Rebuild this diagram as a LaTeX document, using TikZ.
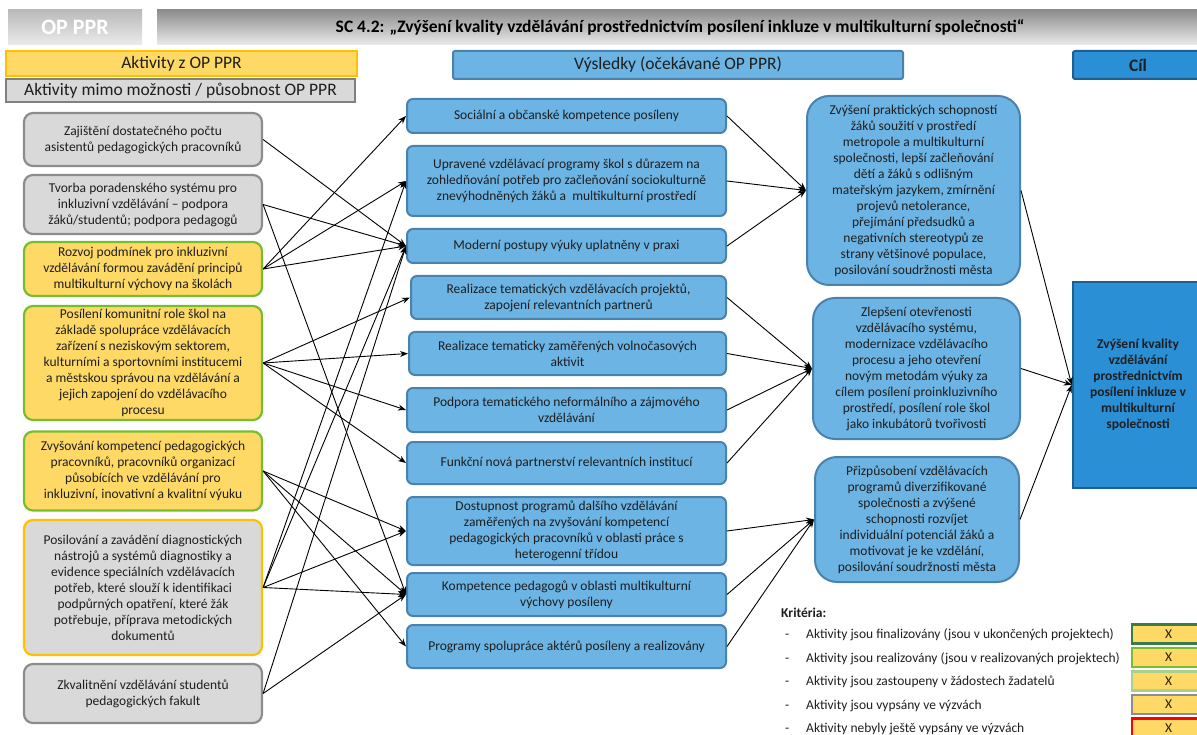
\documentclass[tikz,border=0pt]{standalone}
\usepackage{fontspec}
\setmainfont{Carlito}
\usetikzlibrary{arrows.meta,calc}
\definecolor{bluefill}{HTML}{6CB4E4}
\definecolor{blueline}{HTML}{4A82AE}
\definecolor{goalfill}{HTML}{2A8FD4}
\definecolor{goalline}{HTML}{1F5E90}
\definecolor{yel}{HTML}{FFD966}
\definecolor{orng}{HTML}{FFC000}
\definecolor{grn}{HTML}{76BE2E}
\definecolor{dgrn}{HTML}{3A7D44}
\definecolor{lgrn}{HTML}{A9D18E}
\definecolor{gfill}{HTML}{D9D9D9}
\definecolor{gline}{HTML}{8C8C8C}
\definecolor{txt}{HTML}{1E1E1E}
\begin{document}
\begin{tikzpicture}[x=1pt,y=-1pt,
  base/.style={rectangle, align=center, inner sep=0pt, text=txt, font=\fontsize{13.5}{16}\selectfont},
  lgray/.style={base, fill=gfill, draw=gline, line width=2.2pt, rounded corners=9pt, minimum width=238pt},
  lyel/.style={base, fill=yel, draw=grn, line width=2.2pt, rounded corners=9pt, minimum width=238pt},
  mbox/.style={base, fill=bluefill, draw=blueline, line width=2pt, rounded corners=6pt},
  rbox/.style={base, fill=bluefill, draw=blueline, line width=2pt, rounded corners=22pt},
  hdr/.style={rectangle, align=center, inner sep=0pt, text=txt, font=\fontsize{17.5}{20}\selectfont},
  xbox/.style={rectangle, fill=yel, line width=2.5pt, minimum width=73pt, minimum height=19pt, inner sep=0pt, text=txt, font=\fontsize{13.5}{15}\selectfont},
  crit/.style={anchor=base west, inner sep=0pt, text=txt, font=\fontsize{13.5}{15}\selectfont},
  arr/.style={-{Stealth[length=8pt,width=6pt]}, line width=0.9pt, black}
]
\useasboundingbox (0,0) rectangle (1197,735);

% header
\node[rectangle, top color=black!27, bottom color=black!8, minimum width=134pt, minimum height=35pt, inner sep=0pt, text=white, font=\fontsize{22}{24}\selectfont\bfseries] (opppr) at (75,27.5) {OP PPR};
\node[rectangle, top color=black!45, bottom color=black!8, minimum width=1046pt, minimum height=35pt, inner sep=0pt, text=black, font=\fontsize{17.5}{20}\selectfont\bfseries] (title) at (680,27.5) {SC 4.2: „Zvýšení kvality vzdělávání prostřednictvím posílení inkluze v multikulturní společnosti“};

\node[hdr, fill=yel, draw=orng, line width=2pt, minimum width=351pt, minimum height=25pt] (hakt) at (181.5,63.5) {Aktivity z OP PPR};
\node[hdr, fill=gfill, draw=black!50, line width=2.5pt, minimum width=349pt, minimum height=23pt] (hmimo) at (180.5,90.5) {Aktivity mimo možnosti / působnost OP PPR};
\node[hdr, fill=bluefill, draw=blueline, line width=2pt, rounded corners=2pt, minimum width=450pt, minimum height=28pt] (hvys) at (678,65) {Výsledky (očekávané OP PPR)};
\node[hdr, fill=goalfill, draw=goalline, line width=2pt, rounded corners=2pt, minimum width=130pt, minimum height=28pt, font=\fontsize{17.5}{20}\selectfont\bfseries] (hcil) at (1138,65) {Cíl};

% left column
\node[lgray, minimum height=53pt] (L1) at (143,139.5) {Zajištění dostatečného počtu\\asistentů pedagogických pracovníků};
\node[lgray, minimum height=59pt] (L2) at (143,204.5) {Tvorba poradenského systému pro\\inkluzivní vzdělávání – podpora\\žáků/studentů; podpora pedagogů};
\node[lyel, minimum height=54pt] (L3) at (143,269) {Rozvoj podmínek pro inkluzivní\\vzdělávání formou zavádění principů\\multikulturní výchovy na školách};
\node[lyel, minimum height=114pt] (L4) at (143,363) {Posílení komunitní role škol na\\základě spolupráce vzdělávacích\\zařízení s neziskovým sektorem,\\kulturními a sportovními institucemi\\a městskou správou na vzdělávání a\\jejich zapojení do vzdělávacího\\procesu};
\node[lyel, minimum height=79pt] (L5) at (143,471) {Zvyšování kompetencí pedagogických\\pracovníků, pracovníků organizací\\působících ve vzdělávání pro\\inkluzivní, inovativní a kvalitní výuku};
\node[lgray, draw=orng, minimum height=135pt] (L6) at (143,587.5) {Posilování a zavádění diagnostických\\nástrojů a systémů diagnostiky a\\evidence speciálních vzdělávacích\\potřeb, které slouží k identifikaci\\podpůrných opatření, které žák\\potřebuje, příprava metodických\\dokumentů};
\node[lgray, minimum height=59pt] (L7) at (143,693.5) {Zkvalitnění vzdělávání studentů\\pedagogických fakult};

% middle column
\node[mbox, minimum width=319pt, minimum height=34pt] (M1) at (566.5,116) {Sociální a občanské kompetence posíleny};
\node[mbox, minimum width=319pt, minimum height=70pt] (M2) at (566.5,181) {Upravené vzdělávací programy škol s důrazem na\\zohledňování potřeb pro začleňování sociokulturně\\znevýhodněných žáků a \ multikulturní prostředí};
\node[mbox, minimum width=319pt, minimum height=34pt] (M3) at (566.5,246) {Moderní postupy výuky uplatněny v praxi};
\node[mbox, minimum width=315pt, minimum height=43pt] (M4) at (568.5,297.5) {Realizace tematických vzdělávacích projektů,\\zapojení relevantních partnerů};
\node[mbox, minimum width=317pt, minimum height=43pt] (M5) at (567.5,353.5) {Realizace tematicky zaměřených volnočasových\\aktivit};
\node[mbox, minimum width=319pt, minimum height=44pt] (M6) at (566.5,410) {Podpora tematického neformálního a zájmového\\vzdělávání};
\node[mbox, minimum width=319pt, minimum height=42pt] (M7) at (566.5,463) {Funkční nová partnerství relevantních institucí};
\node[mbox, minimum width=319pt, minimum height=68pt] (M8) at (566.5,531) {Dostupnost programů dalšího vzdělávání\\zaměřených na zvyšování kompetencí\\pedagogických pracovníků v oblasti práce s\\heterogenní třídou};
\node[mbox, minimum width=319pt, minimum height=43pt] (M9) at (566.5,594.5) {Kompetence pedagogů v oblasti multikulturní\\výchovy posíleny};
\node[mbox, minimum width=319pt, minimum height=43pt] (M10) at (566.5,646.5) {Programy spolupráce aktérů posíleny a realizovány};

% right column
\node[rbox, minimum width=213pt, minimum height=189pt] (R1) at (913.5,190.5) {Zvýšení praktických schopností\\žáků soužití v prostředí\\metropole a multikulturní\\společnosti, lepší začleňování\\dětí a žáků s odlišným\\mateřským jazykem, zmírnění\\projevů netolerance,\\přejímání předsudků a\\negativních stereotypů ze\\strany většinové populace,\\posilování soudržnosti města};
\node[rbox, minimum width=207pt, minimum height=141pt] (R2) at (916.5,368.5) {Zlepšení otevřenosti\\vzdělávacího systému,\\modernizace vzdělávacího\\procesu a jeho otevření\\novým metodám výuky za\\cílem posílení proinkluzivního\\prostředí, posílení role škol\\jako inkubátorů tvořivosti};
\node[rbox, minimum width=204pt, minimum height=125pt] (R3) at (917,519.5) {Přizpůsobení vzdělávacích\\programů diverzifikované\\společnosti a zvýšené\\schopnosti rozvíjet\\individuální potenciál žáků a\\motivovat je ke vzdělání,\\posilování soudržnosti města};

% goal
\node[base, fill=goalfill, draw=goalline, line width=2.5pt, minimum width=130pt, minimum height=206pt, font=\fontsize{13.5}{16}\selectfont\bfseries] (goal) at (1138,385) {Zvýšení kvality\\vzdělávání\\prostřednictvím\\posílení inkluze v\\multikulturní\\společnosti};

% criteria
\node[crit, font=\fontsize{13.5}{15}\selectfont\bfseries] (krit) at (781,617) {Kritéria:};
\node[crit] (d1) at (785,638.5) {-};
\node[crit] (d2) at (785,662) {-};
\node[crit] (d3) at (785,685.5) {-};
\node[crit] (d4) at (785,709) {-};
\node[crit] (d5) at (785,732.5) {-};
\node[crit] (c1) at (806,638.5) {Aktivity jsou finalizovány (jsou v ukončených projektech)};
\node[crit] (c2) at (806,662) {Aktivity jsou realizovány (jsou v realizovaných projektech)};
\node[crit] (c3) at (806,685.5) {Aktivity jsou zastoupeny v žádostech žadatelů};
\node[crit] (c4) at (806,709) {Aktivity jsou vypsány ve výzvách};
\node[crit] (c5) at (806,732.5) {Aktivity nebyly ještě vypsány ve výzvách};
\node[xbox, draw=dgrn] (x1) at (1168.5,634) {X};
\node[xbox, draw=grn] (x2) at (1168.5,657.5) {X};
\node[xbox, draw=lgrn] (x3) at (1168.5,681) {X};
\node[xbox, draw=gline] (x4) at (1168.5,704.5) {X};
\node[xbox, draw=red] (x5) at (1168.5,728) {X};

% connectors left -> middle
\draw[arr] (L1.east) -- (M3.west);
\draw[arr] (L2.east) -- (M3.west);
\draw[arr] (L2.east) -- (M9.west);
\draw[arr] (L3.east) -- (M1.west);
\draw[arr] (L3.east) -- (M2.west);
\draw[arr] (L3.east) -- (M3.west);
\draw[arr] (L4.east) -- (M4.west);
\draw[arr] (L4.east) -- (M5.west);
\draw[arr] (L4.east) -- (M6.west);
\draw[arr] (L4.east) -- (M7.west);
\draw[arr] (L5.east) -- (M8.west);
\draw[arr] (L5.east) -- (M9.west);
\draw[arr] (L5.east) -- (M10.west);
\draw[arr] (L6.east) -- (M2.west);
\draw[arr] (L6.east) -- (M3.west);
\draw[arr] (L6.east) -- (M8.west);
\draw[arr] (L6.east) -- (M9.west);
\draw[arr] (L7.east) -- (M3.west);
\draw[arr] (L7.east) -- (M9.west);

% middle -> right
\draw[arr] (M1.east) -- (R1.west);
\draw[arr] (M2.east) -- (R1.west);
\draw[arr] (M3.east) -- (R1.west);
\draw[arr] (M4.east) -- (R2.west);
\draw[arr] (M5.east) -- (R2.west);
\draw[arr] (M6.east) -- (R2.west);
\draw[arr] (M7.east) -- (R2.west);
\draw[arr] (M8.east) -- (R3.west);
\draw[arr] (M9.east) -- (R3.west);
\draw[arr] (M10.east) -- (R3.west);

% right -> goal
\draw[arr] (R1.east) -- (goal.west);
\draw[arr] (R2.east) -- (goal.west);
\draw[arr] (R3.east) -- (goal.west);
\end{tikzpicture}
\end{document}
